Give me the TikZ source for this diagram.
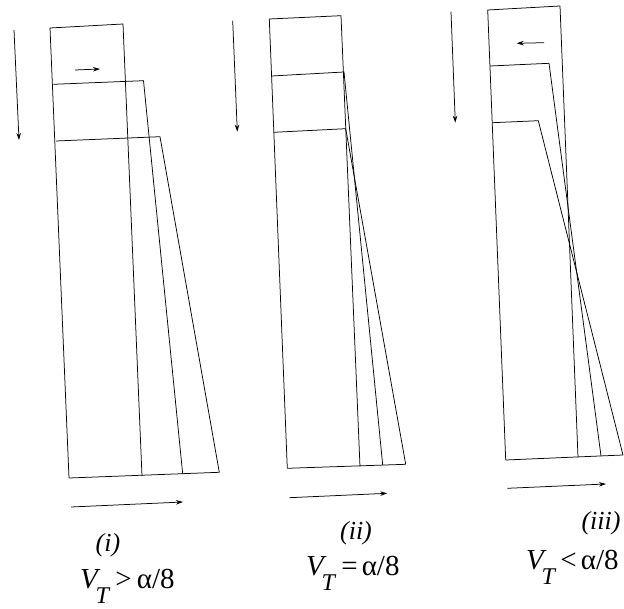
\documentclass[tikz,border=0pt]{standalone}
\usepackage{fontspec}
\setmainfont{Liberation Serif}
\usetikzlibrary{arrows.meta}
\newcommand{\vtsym}{\textit{V}\kern-5pt\raisebox{-15pt}{\fontsize{24}{24}\selectfont\textit{T}}}
\begin{document}
\begin{tikzpicture}[x=1pt,y=-1pt,
  edge/.style={line width=0.75pt, line join=miter},
  motion/.style={line width=0.75pt, -{Stealth[length=7pt,width=4.5pt]}},
  caselabel/.style={font=\fontsize{26}{26}\selectfont\itshape, inner sep=0pt},
  condlabel/.style={font=\fontsize{29}{29}\selectfont, inner sep=0pt, anchor=base west}]
\useasboundingbox (0,0) rectangle (624,609);

% ---------- (i) ----------
\coordinate (a1) at (50,28);    \coordinate (b1) at (123,24);
\coordinate (c1) at (69,478);   \coordinate (d1) at (142,476);
\coordinate (p1) at (53.3,84.3);\coordinate (q1) at (143.5,80.7); \coordinate (r1) at (182.7,474);
\coordinate (s1) at (56,141);   \coordinate (t1) at (160,136.7);  \coordinate (u1) at (219.3,472.3);
\draw[edge] (c1) -- (a1) -- (b1) -- (d1);
\draw[edge] (c1) -- (u1);
\draw[edge] (p1) -- (q1) -- (r1);
\draw[edge] (s1) -- (t1) -- (u1);
\coordinate (v1s) at (14,30);  \coordinate (v1e) at (19,140);
\coordinate (m1s) at (75,70);  \coordinate (m1e) at (100,69);
\coordinate (h1s) at (71,507); \coordinate (h1e) at (183,502);
\draw[motion] (v1s) -- (v1e);
\draw[motion] (m1s) -- (m1e);
\draw[motion] (h1s) -- (h1e);

% ---------- (ii) ----------
\coordinate (a2) at (269.3,19);  \coordinate (b2) at (341,15.7);
\coordinate (c2) at (287.3,468.3); \coordinate (d2) at (360,466.7);
\coordinate (p2) at (271.7,76);  \coordinate (q2) at (344,72);    \coordinate (r2) at (382.7,465);
\coordinate (s2) at (274,132.3); \coordinate (t2) at (345.7,128.7); \coordinate (u2) at (405.7,464.3);
\draw[edge] (c2) -- (a2) -- (b2) -- (d2);
\draw[edge] (c2) -- (u2);
\draw[edge] (p2) -- (q2) -- (r2);
\draw[edge] (s2) -- (t2) -- (u2);
\coordinate (v2s) at (232.7,20.7); \coordinate (v2e) at (237.3,131.7);
\coordinate (h2s) at (289.3,497.7); \coordinate (h2e) at (387.3,493.3);
\draw[motion] (v2s) -- (v2e);
\draw[motion] (h2s) -- (h2e);

% ---------- (iii) ----------
\coordinate (a3) at (487.7,10);  \coordinate (b3) at (560,6);
\coordinate (c3) at (505.7,460); \coordinate (d3) at (578,457.3);
\coordinate (p3) at (490,66);    \coordinate (q3) at (549,63.3);  \coordinate (r3) at (601,456);
\coordinate (s3) at (492.7,122.7); \coordinate (t3) at (538.3,120.7); \coordinate (u3) at (623,455);
\draw[edge] (c3) -- (a3) -- (b3) -- (d3);
\draw[edge] (c3) -- (u3);
\draw[edge] (p3) -- (q3) -- (r3);
\draw[edge] (s3) -- (t3) -- (u3);
\coordinate (v3s) at (451,11.7);  \coordinate (v3e) at (455.3,122.7);
\coordinate (m3s) at (544,42.7);  \coordinate (m3e) at (516.7,43.3);
\coordinate (h3s) at (507.3,488.3); \coordinate (h3e) at (606,484);
\draw[motion] (v3s) -- (v3e);
\draw[motion] (m3s) -- (m3e);
\draw[motion] (h3s) -- (h3e);

% ---------- labels ----------
\node[caselabel] (lab1) at (108,545) {(i)};
\node[caselabel] (lab2) at (356,533) {(ii)};
\node[caselabel] (lab3) at (601,523) {(iii)};
\node[condlabel] (cond1) at (80,588) {\vtsym\kern5pt>\kern5ptα/8};
\node[condlabel] (cond2) at (306,575) {\vtsym\kern5pt=\kern4ptα/8};
\node[condlabel] (cond3) at (526,569) {\vtsym\kern4pt<\kern4ptα/8};
\end{tikzpicture}
\end{document}
